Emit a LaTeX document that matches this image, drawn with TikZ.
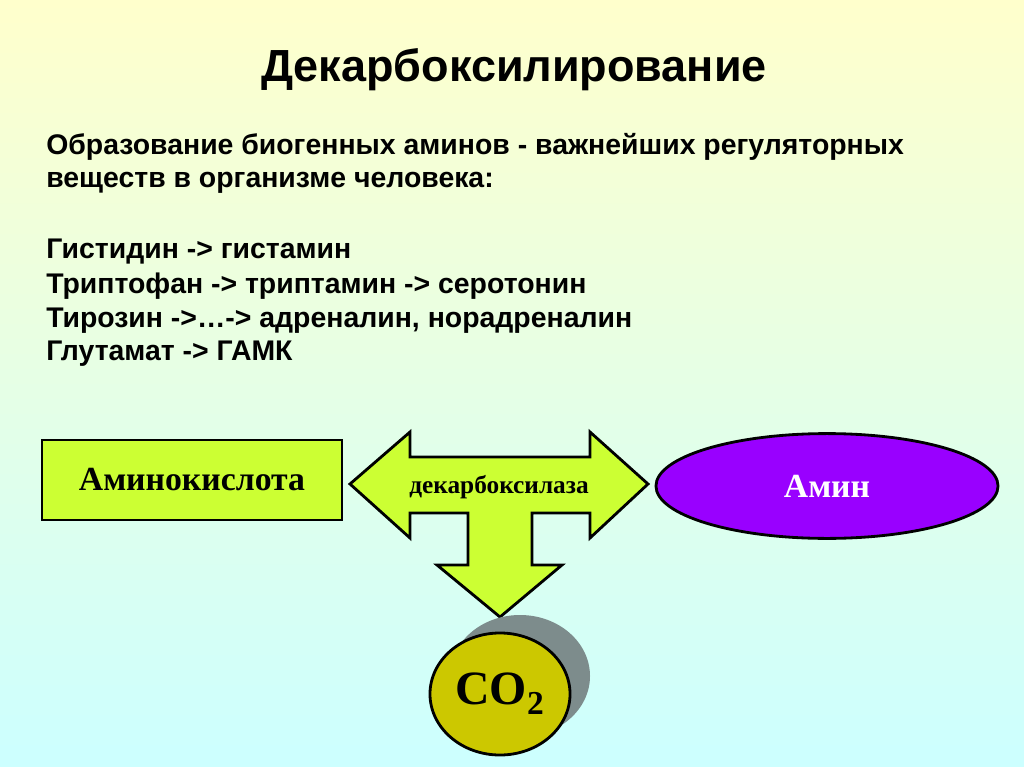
\documentclass[tikz,border=0pt]{standalone}
\usepackage{fontspec}
\setmainfont{Liberation Serif}
\newfontfamily\arialfont{Liberation Sans}
\usetikzlibrary{shapes.geometric}

\definecolor{bgtop}{RGB}{255,255,204}
\definecolor{bgbottom}{RGB}{204,255,255}
\definecolor{limefill}{RGB}{204,255,51}
\definecolor{aminefill}{RGB}{153,0,255}
\definecolor{cofill}{RGB}{204,200,0}
\definecolor{coshadow}{RGB}{125,140,140}

\begin{document}
\begin{tikzpicture}[
    x=0.025cm, y=-0.025cm,
    headline/.style={font=\arialfont\bfseries\fontsize{32}{38}\selectfont, anchor=base},
    textline/.style={font=\arialfont\bfseries\fontsize{20.2}{24}\selectfont, anchor=base west, inner sep=0pt},
    shapeline/.style={draw=black, line width=2pt},
    substrate/.style={shapeline, fill=limefill, minimum width=7.5cm, minimum height=2cm,
        font=\bfseries\fontsize{24}{28}\selectfont},
    product/.style={shapeline, ellipse, fill=aminefill, text=white, minimum width=8.55cm,
        minimum height=2.62cm, font=\bfseries\fontsize{24}{28}\selectfont},
    gas/.style={shapeline, ellipse, fill=cofill, minimum width=3.5cm, minimum height=3.05cm,
        inner sep=0pt, font=\bfseries\fontsize{34}{40}\selectfont},
]

% background
\fill[top color=bgtop, bottom color=bgbottom] (0,0) rectangle (1024,767);

% title
\node[headline] (title) at (514,82) {Декарбоксилирование};

% text lines
\node[textline] (line1) at (46,155) {Образование биогенных аминов - важнейших регуляторных};
\node[textline] (line2) at (46,188) {веществ в организме человека:};
\node[textline] (line3) at (46,258) {Гистидин -> гистамин};
\node[textline] (line4) at (46,293) {Триптофан -> триптамин -> серотонин};
\node[textline] (line5) at (46,327) {Тирозин ->…-> адреналин, норадреналин};
\node[textline] (line6) at (46,360) {Глутамат -> ГАМК};

% substrate
\node[substrate] (acid) at (192,480) {Аминокислота};

% T-arrow
\draw[shapeline, fill=limefill, line join=miter]
    (350,484) -- (410,432) -- (410,457) -- (590,457) -- (590,432) -- (648,484)
    -- (590,538) -- (590,513) -- (532,513) -- (532,565) -- (562,565) -- (500,617)
    -- (437,565) -- (468,565) -- (468,513) -- (410,513) -- (410,538) -- cycle;
\node[font=\bfseries\fontsize{18}{21}\selectfont] (enzyme) at (499,487) {декарбоксилаза};

% product
\node[product] (amine) at (827,486) {Амин};

% CO2
\fill[coshadow] (520,676) ellipse [x radius=70, y radius=61];
\node[gas] (co2) at (500,694) {CO\textsubscript{2}};

\end{tikzpicture}
\end{document}
